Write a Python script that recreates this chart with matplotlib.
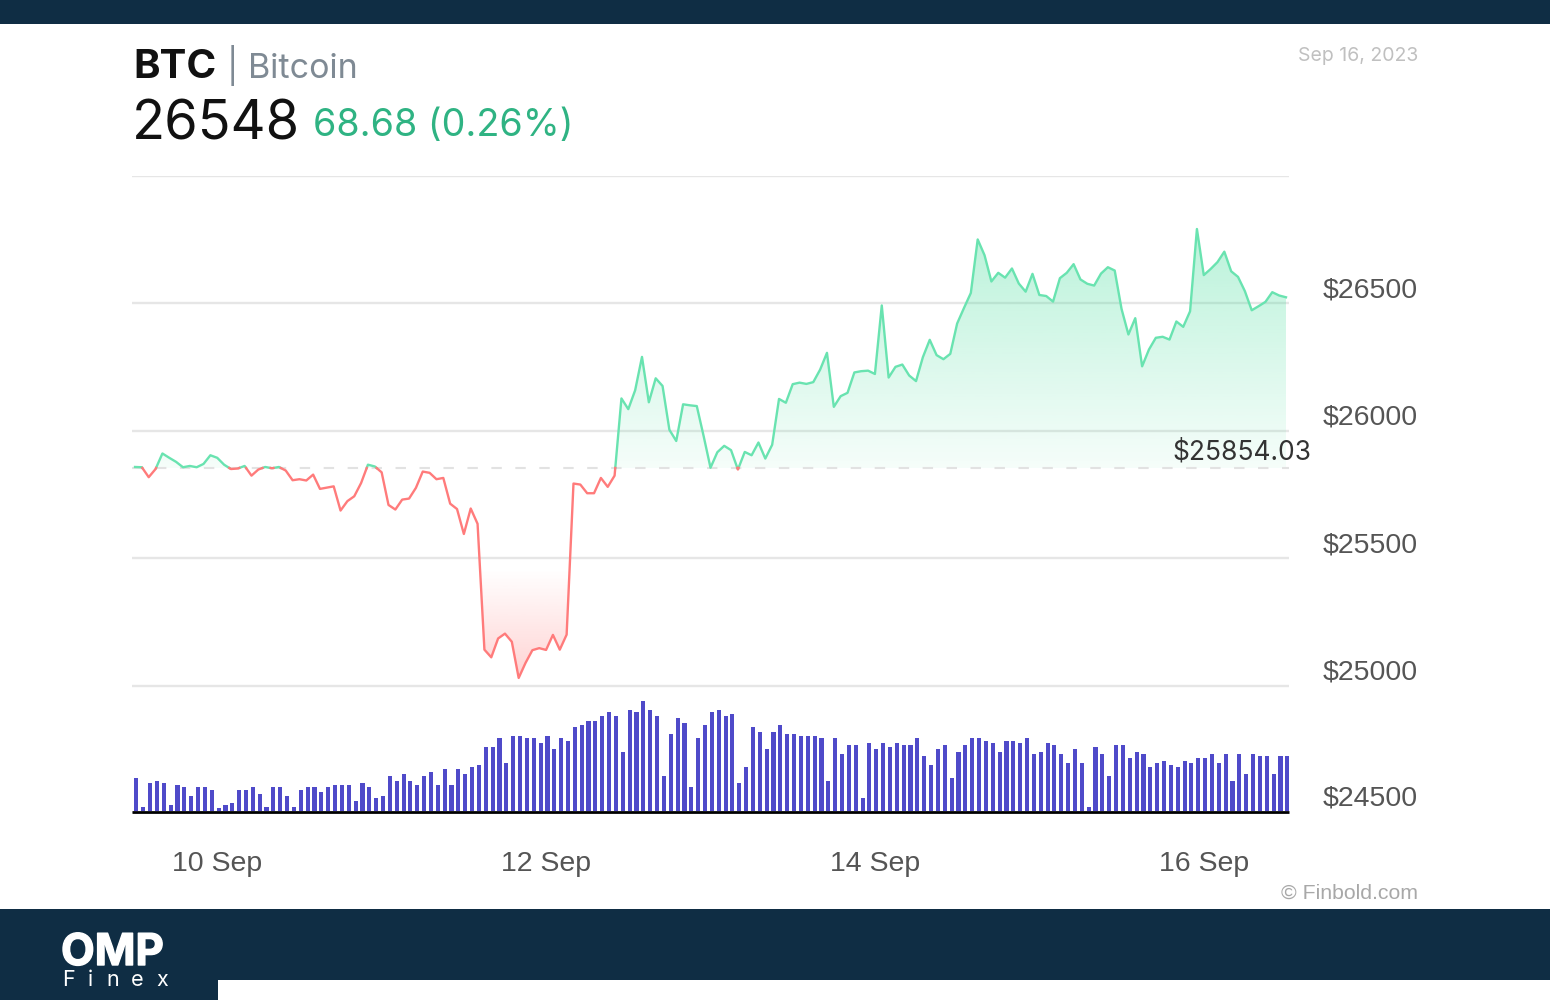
import numpy as np
import matplotlib
matplotlib.use("Agg")
import matplotlib.pyplot as plt
import matplotlib.patheffects as pe
from matplotlib.path import Path
from matplotlib.patches import Rectangle
from matplotlib.transforms import ScaledTranslation

# hourly BTC price
prices = [
    25858, 25857, 25818, 25850, 25911, 25894, 25878, 25857, 25862, 25857, 25870, 25904,
    25894, 25867, 25850, 25852, 25862, 25824, 25848, 25858, 25853, 25858, 25844, 25806,
    25810, 25805, 25828, 25772, 25777, 25782, 25687, 25724, 25743, 25795, 25867, 25860,
    25837, 25709, 25691, 25730, 25734, 25776, 25840, 25835, 25810, 25815, 25714, 25693,
    25595, 25695, 25635, 25141, 25111, 25185, 25204, 25172, 25030, 25089, 25139, 25147,
    25140, 25199, 25141, 25200, 25793, 25789, 25755, 25755, 25815, 25780, 25824,
    26127, 26085, 26159, 26290, 26112, 26206, 26176, 26004, 25960, 26104, 26100, 26097,
    25979, 25855, 25916, 25941, 25924, 25848, 25917, 25904, 25954, 25891, 25945, 26125,
    26110, 26183, 26189, 26184, 26191, 26240, 26306, 26094, 26136, 26149, 26229, 26234,
    26236, 26223, 26492, 26209, 26251, 26260, 26217, 26195, 26289, 26357, 26297, 26281,
    26302, 26421, 26482, 26541,
    26751, 26689, 26586, 26620, 26601, 26637, 26578, 26546, 26616, 26533, 26529, 26507,
    26599, 26620, 26654, 26594, 26577, 26570, 26617, 26642, 26629, 26478, 26378, 26442,
    26253, 26319, 26365, 26369, 26358, 26429, 26408, 26469, 26792, 26611, 26635, 26662,
    26703, 26626, 26604, 26548, 26473, 26489, 26506, 26544, 26531, 26524,
]

# volume, no scale on the chart so units are arbitrary
volumes = [
    98, 11, 85, 91, 85, 18, 78, 71, 44, 71, 71, 64, 8, 18, 25, 64, 64, 71, 51, 11,
    71, 71, 44, 11, 64, 71, 71, 58, 71, 78, 78, 78, 31, 85, 71, 38, 44, 105, 91, 111,
    91, 78, 105, 118, 78, 125, 78, 125, 111, 131, 138, 191, 191, 218, 145, 225, 225, 218,
    218, 205, 225, 185, 218, 211, 251, 258, 271, 271, 285, 298, 285, 178, 304, 298, 331,
    304, 285, 105, 231, 278, 264, 71, 218, 258, 298, 304, 285, 291, 85, 131, 251, 238,
    185, 238, 258, 231, 231, 225, 225, 225, 218, 91, 218, 171, 198, 198, 38, 205, 185,
    205, 191, 205, 198, 198, 218,
    165, 138, 185, 198, 98, 178, 198, 218, 218, 211, 205, 178, 211, 211, 205, 218, 171,
    178, 205, 198, 171, 145, 185, 145, 11, 191, 171, 105, 198, 198, 158, 178, 171, 131,
    145, 151, 138, 131, 151, 145, 158, 158, 171, 145, 171, 91, 171, 111, 171, 165, 165,
    111, 165, 165,
]

base_price = 25854.03
price_ticks = [24500, 25000, 25500, 26000, 26500, 27000]
price_labels = ["$24500", "$25000", "$25500", "$26000", "$26500", ""]
date_ticks = [12, 60, 108, 156]
date_labels = ["10 Sep", "12 Sep", "14 Sep", "16 Sep"]

NAVY = "#0f2d44"
GREEN = "#69e3b0"
RED = "#ff7b7b"
UI_FONT = ["Inter", "DejaVu Sans"]
AXIS_FONT = ["Liberation Sans", "DejaVu Sans"]


def gradient(color, alpha_top, alpha_bottom):
    rgba = np.zeros((256, 1, 4))
    rgba[..., :3] = matplotlib.colors.to_rgb(color)
    rgba[:, 0, 3] = np.linspace(alpha_top, alpha_bottom, 256)
    return rgba


def with_crossings(x, y, level):
    xs, ys = [x[0]], [y[0]]
    for i in range(1, len(x)):
        if (y[i - 1] - level) * (y[i] - level) < 0:
            t = (level - y[i - 1]) / (y[i] - y[i - 1])
            xs.append(x[i - 1] + t * (x[i] - x[i - 1]))
            ys.append(level)
        xs.append(x[i])
        ys.append(y[i])
    return np.array(xs), np.array(ys)


fig = plt.figure(figsize=(15.5, 10), dpi=100, facecolor="white")

# page furniture in pixel coordinates
page = fig.add_axes([0, 0, 1, 1], zorder=0)
page.set_xlim(0, 1550)
page.set_ylim(1000, 0)
page.axis("off")
page.add_patch(Rectangle((0, 0), 1550, 24, color=NAVY, lw=0))
page.add_patch(Rectangle((0, 909), 1550, 91, color=NAVY, lw=0))
page.add_patch(Rectangle((218, 980), 1332, 20, color="white", lw=0))

page.text(133, 78, "BTC", family=UI_FONT, weight="bold", fontsize=29, color="#111111")
page.text(227, 78, "| Bitcoin", family=UI_FONT, fontsize=24.5, color="#7f8a94")
page.text(132, 140, "26548", family=UI_FONT, fontsize=39, color="#111111")
page.text(313, 136, "68.68 (0.26%)", family=UI_FONT, fontsize=27.1, color="#2fb383")
page.text(1418, 56, "Sep 16, 2023", family=UI_FONT, fontsize=14, color="#c0c0c0", ha="right", va="center")
page.text(1418, 893, "© Finbold.com", family=AXIS_FONT, fontsize=15.3, color="#a8a8a8", ha="right", va="center")
page.text(61, 965, "OMP", family=UI_FONT, weight="bold", fontsize=31.5, color="white",
          path_effects=[pe.withStroke(linewidth=1, foreground="white")])
for letter, px in zip("Finex", [62, 88, 106, 131, 156]):
    page.text(px, 986, letter, family=UI_FONT, fontsize=15.5, color="white")

# chart axes, 132-1289 px wide, 176-813 px tall
ax = fig.add_axes([132 / 1550, 1 - 813 / 1000, 1157 / 1550, 637 / 1000], zorder=1)
ax.patch.set_alpha(0)
vol_ax = ax.twinx()
vol_ax.patch.set_alpha(0)

hours = np.arange(len(prices))
xs, ys = with_crossings(hours, np.array(prices, dtype=float), base_price)

xlim = (-0.44, 168.44)
ylim = (24500, 27000)

ax.set_axisbelow(True)
ax.grid(axis="y", color="#e6e6e6", lw=1.7)
ax.grid(axis="x", visible=False)

up_fill = ax.fill_between(xs, ys, base_price, where=ys >= base_price, interpolate=True, facecolor="none", lw=0)
down_fill = ax.fill_between(xs, ys, base_price, where=ys <= base_price, interpolate=True, facecolor="none", lw=0)

up_img = ax.imshow(gradient("#3ddc97", 0.36, 0.05), extent=(0, 168, base_price, 26800),
                   aspect="auto", zorder=1, origin="upper")
up_img.set_clip_path(Path.make_compound_path(*up_fill.get_paths()), ax.transData)
down_img = ax.imshow(gradient("#ff6b6b", 0.0, 0.30), extent=(0, 168, 25025, 25455),
                     aspect="auto", zorder=1, origin="upper")
down_img.set_clip_path(Path.make_compound_path(*down_fill.get_paths()), ax.transData)

ax.axhline(base_price, color="#e2e2e2", lw=1.5, dashes=(5, 6.5), zorder=2)
ax.plot(xs, np.where(ys >= base_price, ys, np.nan), color=GREEN, lw=1.7, zorder=3)
ax.plot(xs, np.where(ys <= base_price, ys, np.nan), color=RED, lw=1.7, zorder=3)

vol_ax.bar(hours + 0.2, volumes, width=0.6, color="#4f4ac9", zorder=2)
vol_ax.set_ylim(-6, 1905)
vol_ax.set_yticks([])

ax.set_xlim(xlim)
ax.set_ylim(ylim)
ax.set_xticks(date_ticks, date_labels, family=AXIS_FONT, fontsize=20.5, color="#555555")
ax.set_yticks(price_ticks, price_labels, family=AXIS_FONT, fontsize=20.5, color="#555555")
ax.yaxis.tick_right()
ax.tick_params(axis="both", length=0)
ax.tick_params(axis="x", pad=27.5)
ax.tick_params(axis="y", pad=24)

# price labels sit above their gridlines
lift = ScaledTranslation(0, 16 / 100, fig.dpi_scale_trans)
low_lift = ScaledTranslation(0, 18 / 100, fig.dpi_scale_trans)
for i, label in enumerate(ax.get_yticklabels()):
    label.set_transform(label.get_transform() + (low_lift if i == 0 else lift))

for side in ["top", "left", "right"]:
    ax.spines[side].set_visible(False)
    vol_ax.spines[side].set_visible(False)
ax.spines["bottom"].set_visible(False)
vol_ax.spines["bottom"].set_color("#000000")
vol_ax.spines["bottom"].set_linewidth(2)
vol_ax.spines["bottom"].set_capstyle("butt")
vol_ax.spines["bottom"].set_position(("outward", -1))
vol_ax.spines["bottom"].set_zorder(1)

page.text(1172, 453, f"${base_price:.2f}", family=UI_FONT, fontsize=19, color="#333333", va="center")
page.set_zorder(2)
page.patch.set_alpha(0)

fig.savefig("out.png", dpi=100)
